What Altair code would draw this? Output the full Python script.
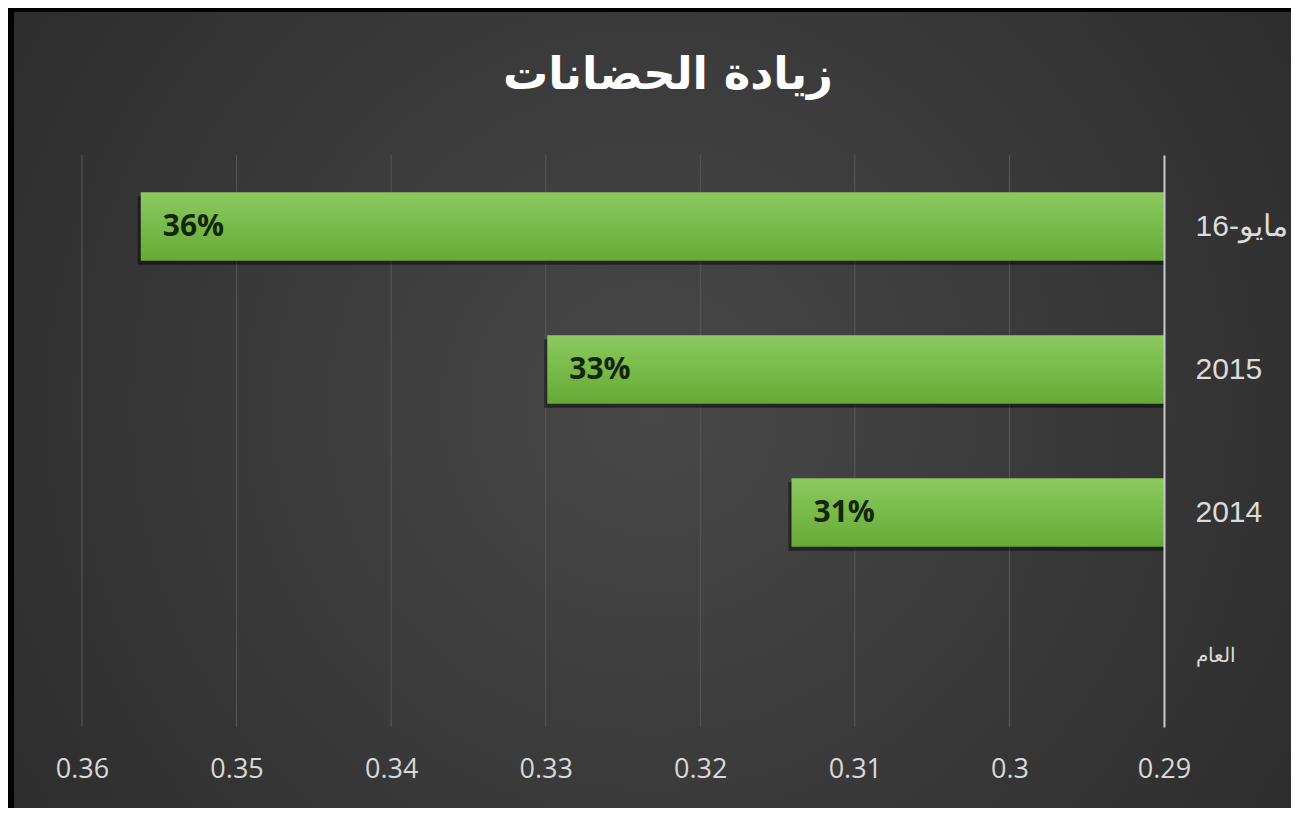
import altair as alt
import pandas as pd

categories = ["مايو-16", "2015", "2014", "العام"]
values = [0.3562, 0.3299, 0.3141, None]
ticks = [0.29, 0.30, 0.31, 0.32, 0.33, 0.34, 0.35, 0.36]
title_text = ["زيادة الحضانات"]

W, H = 1082, 572
PL, PT, PR, PB = 74, 147, 127, 81

df = pd.DataFrame({"cat": categories, "value": values})
bars_df = df.dropna()
tick_df = pd.DataFrame({"tick": ticks})
title_df = pd.DataFrame({"t": title_text})

xscale = alt.Scale(domain=[0.29, 0.36], reverse=True, nice=False, zero=False)
yscale = alt.Scale(domain=categories, paddingInner=0.52, paddingOuter=0.26)

xaxis = alt.Axis(values=ticks, format="~g", grid=False, domain=False, ticks=False,
                 labelColor="#d9d9d9", labelFontSize=27, labelFont="Open Sans",
                 labelPadding=29, labelFlush=False, title=None, zindex=1)
yaxis = alt.Axis(orient="right", domain=True, domainColor="#c8c8c8", domainWidth=2,
                 ticks=False, grid=False, labelColor="#dcdcdc",
                 labelFontSize=alt.ExprRef("datum.label == 'العام' ? 20 : 30"),
                 labelFont="Liberation Sans", labelPadding=31, labelAlign="left",
                 title=None, zindex=1)

X = lambda f: alt.X(f, scale=xscale, axis=xaxis, title=None)
Y = alt.Y("cat:N", scale=yscale, sort=categories, axis=yaxis, title=None)

bg = alt.Chart(pd.DataFrame({"a": [0]})).mark_rect(
    fill=alt.RadialGradient(
        gradient="radial",
        stops=[alt.GradientStop(offset=0, color="#484848"),
               alt.GradientStop(offset=1, color="#262626")],
        x1=0.5, y1=0.5, r1=0, x2=0.5, y2=0.5, r2=0.75),
).encode(x=alt.value(-68), x2=alt.value(W + PR), y=alt.value(-143), y2=alt.value(H + PB))

grid = alt.Chart(tick_df).mark_rule(color="#595959", strokeWidth=1).encode(x=X("tick:Q"))

shadow = alt.Chart(bars_df).mark_bar(color="#000000", opacity=0.45, yOffset=4, xOffset=-3).encode(
    x=X("value:Q"), x2=alt.datum(0.29), y=Y)

bars = alt.Chart(bars_df).mark_bar(
    fill=alt.LinearGradient(
        gradient="linear",
        stops=[alt.GradientStop(offset=0, color="#8cc85f"),
               alt.GradientStop(offset=0.5, color="#78bb4a"),
               alt.GradientStop(offset=1, color="#66a936")],
        x1=0, x2=0, y1=0, y2=1),
).encode(x=X("value:Q"), x2=alt.datum(0.29), y=Y)

labels = alt.Chart(bars_df).mark_text(
    align="left", baseline="middle", dx=22, font="Open Sans", fontSize=30,
    fontWeight="bold", color="#14260a").encode(
    x=X("value:Q"), y=Y, text=alt.Text("value:Q", format=".0%"))

title = alt.Chart(title_df).mark_text(
    align="center", baseline="middle", font="DejaVu Sans", fontSize=45,
    fontWeight="bold", color="#ffffff").encode(
    x=alt.value(586), y=alt.value(-80), text="t:N")

chart = alt.layer(bg, grid, shadow, bars, labels, title).properties(
    width=W, height=H,
    padding={"left": PL, "top": PT, "right": PR, "bottom": PB},
    autosize=alt.AutoSizeParams(type="none"),
    background="#000000",
).configure_view(stroke=None)

chart.save("out.html", embed_options={"renderer": "svg", "actions": False})
